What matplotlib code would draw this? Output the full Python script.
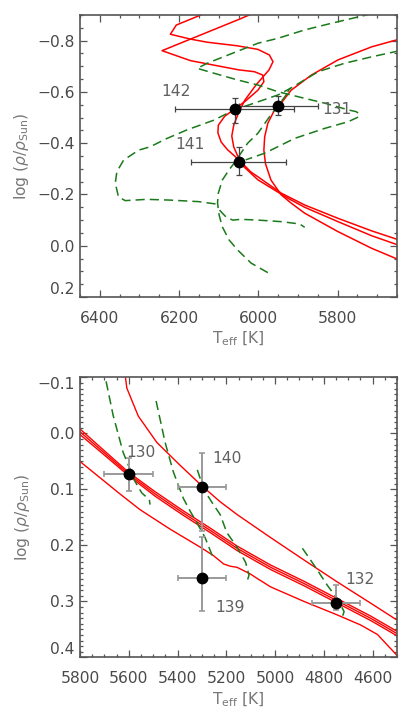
import numpy as np
import matplotlib.pyplot as plt
from matplotlib.ticker import MultipleLocator, FuncFormatter

# ===== upper panel: observed stars =====
top_ids = ["142", "131", "141"]
top_teff = [6060, 5950, 6050]
top_teff_err = [150, 100, 120]
top_logrho = [-0.532, -0.547, -0.326]
top_logrho_lo = [0.045, 0.038, 0.061]
top_logrho_hi = [0.052, 0.036, 0.050]

# upper panel: isochrones (red solid)
top_iso1_teff = [6125, 6207, 6222, 6171, 6129, 6053, 6001, 5972, 5963, 5973, 6006, 6034, 6049,
                 6062, 6067, 6062, 6052, 6044, 6019, 6001, 5942, 5883, 5799, 5714, 5640]
top_iso1_logrho = [-0.913, -0.861, -0.825, -0.806, -0.794, -0.780, -0.766, -0.744, -0.718, -0.686,
                   -0.627, -0.568, -0.522, -0.471, -0.428, -0.385, -0.350, -0.327, -0.288, -0.269,
                   -0.205, -0.159, -0.107, -0.058, -0.020]
top_iso2_teff = [6005, 6049, 6243, 6171, 6049, 6010, 5989, 5986, 6001, 6032, 6060, 6085, 6101,
                 6102, 6094, 6078, 6057, 6044, 6001, 5925, 5883, 5799, 5714, 5640]
top_iso2_logrho = [-0.912, -0.883, -0.761, -0.722, -0.686, -0.679, -0.666, -0.640, -0.607, -0.565,
                   -0.533, -0.505, -0.470, -0.440, -0.405, -0.375, -0.346, -0.319, -0.257, -0.185,
                   -0.150, -0.094, -0.039, 0.001]
top_iso3_teff = [5640, 5651, 5714, 5799, 5866, 5917, 5946, 5959, 5976, 5984, 5986, 5982, 5968,
                 5942, 5917, 5883, 5799, 5714, 5640]
top_iso3_logrho = [-0.806, -0.803, -0.776, -0.725, -0.666, -0.607, -0.549, -0.530, -0.478, -0.425,
                   -0.373, -0.320, -0.256, -0.198, -0.166, -0.127, -0.055, 0.010, 0.058]

# upper panel: evolutionary tracks (green dashed)
top_trk1_teff = [5715, 5728, 5815, 5883, 5951, 6001, 6065, 6129, 6154, 6112, 6053, 6001, 5951,
                 5883, 5832, 5773, 5753, 5745, 5748, 5773, 5832, 5908, 5984, 6032]
top_trk1_logrho = [-0.908, -0.900, -0.868, -0.842, -0.809, -0.790, -0.751, -0.712, -0.692, -0.673,
                   -0.647, -0.627, -0.601, -0.575, -0.556, -0.530, -0.523, -0.514, -0.502, -0.484,
                   -0.458, -0.419, -0.361, -0.335]
top_trk2_teff = [6108, 6150, 6222, 6281, 6336, 6353, 6361, 6357, 6340, 6302, 6273, 6230, 6180,
                 6112, 6061, 6011, 5951, 5918, 5849, 5782, 5714, 5655, 5639]
top_trk2_logrho = [-0.163, -0.172, -0.178, -0.181, -0.176, -0.191, -0.244, -0.289, -0.334, -0.373,
                   -0.386, -0.419, -0.452, -0.490, -0.530, -0.556, -0.588, -0.615, -0.679, -0.712,
                   -0.737, -0.757, -0.763]
top_trk3_teff = [5976, 6018, 6052, 6074, 6091, 6099, 6103, 6101, 6091, 6074, 6061, 6044, 6027,
                 6001, 5972, 5955, 5930, 5920, 5926]
top_trk3_logrho = [0.105, 0.068, 0.017, -0.023, -0.074, -0.120, -0.167, -0.205, -0.256, -0.296,
                   -0.322, -0.361, -0.400, -0.439, -0.503, -0.536, -0.588, -0.614, -0.600]
top_trk4_teff = [6098, 6082, 6065, 6044, 6001, 5942, 5896, 5883]
top_trk4_logrho = [-0.139, -0.113, -0.100, -0.103, -0.100, -0.094, -0.085, -0.072]

# ===== lower panel: observed stars =====
bot_ids = ["130", "140", "139", "132"]
bot_teff = [5600, 5300, 5300, 4750]
bot_teff_err = [100, 100, 100, 100]
bot_logrho = [0.073, 0.095, 0.258, 0.302]
bot_logrho_lo = [0.029, 0.061, 0.073, 0.032]
bot_logrho_hi = [0.030, 0.079, 0.059, 0.013]

# lower panel: isochrones (red solid)
bot_iso1_teff = [5615, 5608, 5561, 5485, 5389, 5299, 5225, 5155, 5018, 4881, 4749, 4608, 4490]
bot_iso1_logrho = [-0.105, -0.081, -0.031, 0.016, 0.057, 0.094, 0.122, 0.145, 0.186, 0.226,
                   0.264, 0.303, 0.336]
bot_bundle_teff = [5800, 5718, 5599, 5492, 5377, 5266, 5156, 5018, 4881, 4749, 4608, 4505, 4486]
bot_iso2_logrho = [-0.008, 0.024, 0.070, 0.104, 0.138, 0.169, 0.201, 0.235, 0.264, 0.294, 0.326,
                   0.352, 0.358]
bot_iso3_logrho = [-0.003, 0.028, 0.073, 0.108, 0.142, 0.173, 0.205, 0.239, 0.268, 0.298, 0.330,
                   0.356, 0.362]
bot_iso4_logrho = [0.002, 0.032, 0.076, 0.112, 0.146, 0.177, 0.209, 0.243, 0.272, 0.302, 0.334,
                   0.360, 0.366]
bot_iso5_teff = [5800, 5718, 5636, 5554, 5430, 5307, 5253, 5211, 5184, 5156, 5101, 5073, 5018,
                 4881, 4745, 4649, 4580, 4505, 4494]
bot_iso5_logrho = [0.050, 0.079, 0.108, 0.136, 0.171, 0.203, 0.218, 0.233, 0.237, 0.239, 0.251,
                   0.259, 0.274, 0.300, 0.324, 0.342, 0.359, 0.394, 0.400]

# lower panel: evolutionary tracks (green dashed)
bot_trk1_teff = [5693, 5664, 5623, 5574, 5547, 5529, 5515, 5513]
bot_trk1_logrho = [-0.093, -0.032, 0.034, 0.086, 0.106, 0.113, 0.120, 0.127]
bot_trk2_teff = [5488, 5451, 5417, 5376, 5348, 5321, 5287, 5255]
bot_trk2_logrho = [-0.058, 0.016, 0.069, 0.116, 0.139, 0.159, 0.186, 0.221]
bot_trk3_teff = [5319, 5291, 5259, 5225, 5198, 5156, 5121, 5107, 5114]
bot_trk3_logrho = [0.065, 0.101, 0.123, 0.145, 0.177, 0.203, 0.230, 0.253, 0.263]
bot_trk4_teff = [4888, 4834, 4786, 4745, 4717, 4728]
bot_trk4_logrho = [0.205, 0.239, 0.271, 0.295, 0.318, 0.332]

RED = "#ff0000"
GREEN = "#1a7a1a"
FRAME = "#555555"
TXT = "#4a4a4a"
LBL = "#777777"


def minus_fmt(x, pos):
    return f"{x:.1f}".replace("-", "\u2212") if abs(x) > 1e-9 else "0.0"


def style(ax, xmaj, xmin, ymaj, ymin):
    ax.xaxis.set_major_locator(MultipleLocator(xmaj))
    ax.xaxis.set_minor_locator(MultipleLocator(xmin))
    ax.yaxis.set_major_locator(MultipleLocator(ymaj))
    ax.yaxis.set_minor_locator(MultipleLocator(ymin))
    ax.yaxis.set_major_formatter(FuncFormatter(minus_fmt))
    ax.tick_params(which="both", direction="in", top=True, right=True,
                   colors=FRAME, labelcolor=TXT, labelsize=11.2, width=0.9)
    ax.tick_params(which="major", length=5, pad=10)
    ax.tick_params(axis="y", which="major", pad=4)
    ax.tick_params(which="minor", length=2.5)
    for s in ax.spines.values():
        s.set_color(FRAME)
        s.set_linewidth(1.2)
    ax.set_xlabel(r"T$_{\rm eff}$ [K]", color=LBL, fontsize=11.2, labelpad=3)
    ax.set_ylabel(r"log ($\rho$/$\rho_{\rm Sun}$)", color=LBL, fontsize=11.2, labelpad=4)


fig = plt.figure(figsize=(4.07, 7.23), dpi=100)
ax1 = fig.add_axes([0.1966, 0.5892, 0.7789, 0.3900])
ax2 = fig.add_axes([0.1966, 0.0906, 0.7789, 0.3873])

# --- upper panel ---
for t, r in [(top_iso1_teff, top_iso1_logrho), (top_iso2_teff, top_iso2_logrho),
             (top_iso3_teff, top_iso3_logrho)]:
    ax1.plot(t, r, color=RED, lw=1.1)
for t, r in [(top_trk1_teff, top_trk1_logrho), (top_trk2_teff, top_trk2_logrho),
             (top_trk3_teff, top_trk3_logrho), (top_trk4_teff, top_trk4_logrho)]:
    ax1.plot(t, r, color=GREEN, lw=1.1, dashes=(6, 3.3))
ax1.errorbar(top_teff, top_logrho, xerr=top_teff_err, yerr=[top_logrho_lo, top_logrho_hi],
             fmt="o", color="black", ms=7.5, ecolor="#444444", elinewidth=0.9, capsize=2.2,
             capthick=0.9, zorder=5)
for name, t, r, off in zip(top_ids, top_teff, top_logrho, [(-42, 13), (42, -3), (-35, 13)]):
    ax1.annotate(name, (t, r), xytext=off, textcoords="offset points", ha="center",
                 va="center", color="#606060", fontsize=11.2)
ax1.set_xlim(6450, 5650)
ax1.set_ylim(0.2, -0.9)
style(ax1, 200, 50, 0.2, 0.05)

# --- lower panel ---
ax2.plot(bot_iso1_teff, bot_iso1_logrho, color=RED, lw=1.0)
for r in [bot_iso2_logrho, bot_iso3_logrho, bot_iso4_logrho]:
    ax2.plot(bot_bundle_teff, r, color=RED, lw=1.0)
ax2.plot(bot_iso5_teff, bot_iso5_logrho, color=RED, lw=1.0)
for t, r in [(bot_trk1_teff, bot_trk1_logrho), (bot_trk2_teff, bot_trk2_logrho),
             (bot_trk3_teff, bot_trk3_logrho), (bot_trk4_teff, bot_trk4_logrho)]:
    ax2.plot(t, r, color=GREEN, lw=1.1, dashes=(6, 3.3))
ax2.errorbar(bot_teff, bot_logrho, xerr=bot_teff_err, yerr=[bot_logrho_lo, bot_logrho_hi],
             fmt="o", color="black", ms=7.5, ecolor="#999999", elinewidth=1.4, capsize=2.2,
             capthick=1.2, zorder=5)
for name, t, r, off in zip(bot_ids, bot_teff, bot_logrho,
                           [(9, 16), (18, 20), (20, -21), (17.5, 16.5)]):
    ax2.annotate(name, (t, r), xytext=off, textcoords="offset points", ha="center",
                 va="center", color="#606060", fontsize=11.2)
ax2.set_xlim(5800, 4500)
ax2.set_ylim(0.4, -0.1)
style(ax2, 200, 50, 0.1, 0.01)

# keep the end labels of the y axes inside the frame, as in the original
fig.canvas.draw()
for ax in (ax1, ax2):
    lo, hi = ax.get_ylim()
    for tick in ax.yaxis.get_major_ticks():
        if abs(tick.get_loc() - lo) < 1e-6:
            tick.label1.set_va("bottom")
        elif abs(tick.get_loc() - hi) < 1e-6:
            tick.label1.set_va("top")

fig.savefig("out.png", dpi=100)
